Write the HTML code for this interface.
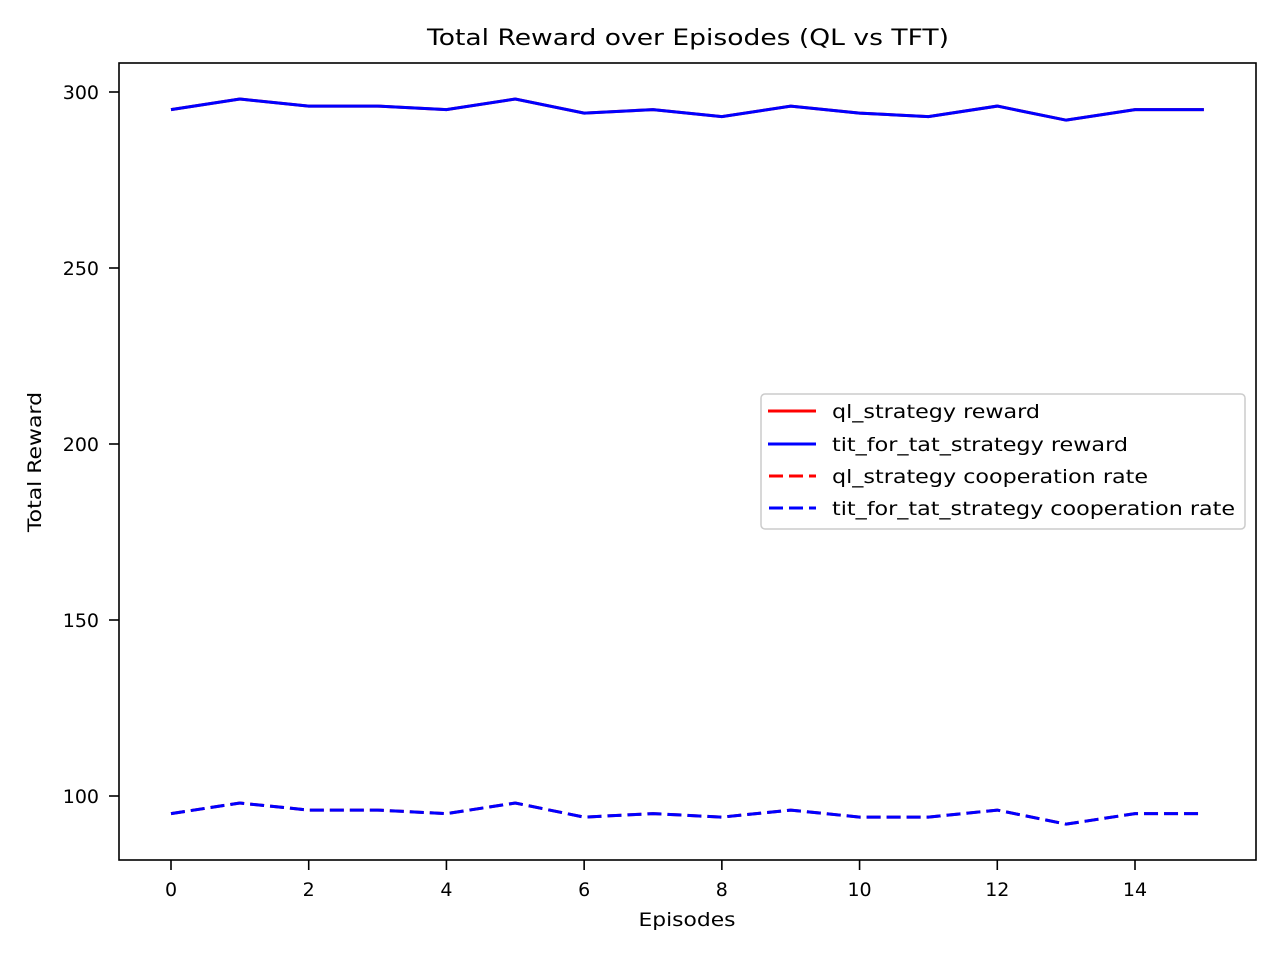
<!DOCTYPE html>
<html><head><meta charset="utf-8"><style>
body{margin:0;background:#fff}
svg{display:block;font-family:"DejaVu Sans","Liberation Sans",sans-serif}
</style></head><body>
<svg id="chart" width="1280" height="960">
<text x="688" y="45" text-anchor="middle" font-size="22" textLength="522" lengthAdjust="spacingAndGlyphs">Total Reward over Episodes (QL vs TFT)</text>
<g id="marks"></g>
<rect x="119" y="63" width="1137" height="797" fill="none" stroke="#000" stroke-width="1.6"/>
<g id="axes"></g>
<text x="687" y="926" text-anchor="middle" font-size="19" textLength="97" lengthAdjust="spacingAndGlyphs">Episodes</text>
<text transform="translate(41,462) rotate(-90)" text-anchor="middle" font-size="19" textLength="140" lengthAdjust="spacingAndGlyphs">Total Reward</text>
<g>
<rect x="761" y="394" width="484" height="135" rx="4" fill="#fff" fill-opacity="0.8" stroke="#ccc" stroke-width="1.5"/>
<g><line x1="768" y1="411" x2="816" y2="411" stroke="red" stroke-width="3"/><text x="832" y="418" font-size="19" textLength="208" lengthAdjust="spacingAndGlyphs">ql_strategy reward</text></g>
<g><line x1="768" y1="444" x2="816" y2="444" stroke="blue" stroke-width="3"/><text x="832" y="451" font-size="19" textLength="296" lengthAdjust="spacingAndGlyphs">tit_for_tat_strategy reward</text></g>
<g><line x1="769" y1="476" x2="816" y2="476" stroke="red" stroke-width="3" stroke-dasharray="14,6"/><text x="832" y="483" font-size="19" textLength="316" lengthAdjust="spacingAndGlyphs">ql_strategy cooperation rate</text></g>
<g><line x1="769" y1="508" x2="816" y2="508" stroke="blue" stroke-width="3" stroke-dasharray="14,6"/><text x="832" y="515" font-size="19" textLength="403" lengthAdjust="spacingAndGlyphs">tit_for_tat_strategy cooperation rate</text></g>
</g>
</svg>
<script>
const episodes=[0,1,2,3,4,5,6,7,8,9,10,11,12,13,14,15];
const qlReward=[295,298,296,296,295,298,294,295,293,296,294,293,296,292,295,295];
const tftReward=[295,298,296,296,295,298,294,295,293,296,294,293,296,292,295,295];
const qlCoop=[95,98,96,96,95,98,94,95,94,96,94,94,96,92,95,95];
const tftCoop=[95,98,96,96,95,98,94,95,94,96,94,94,96,92,95,95];
const xTicks=[0,2,4,6,8,10,12,14];
const yTicks=[100,150,200,250,300];
const NS="http://www.w3.org/2000/svg";
function xs(v){return 171+v*(1135-171)/14;}
function ys(v){return 796-(v-100)*(796-92)/200;}
const marks=document.getElementById('marks'),axes=document.getElementById('axes');
function line(arr,color,dash,name){
  const p=document.createElementNS(NS,'polyline');
  p.setAttribute('points',arr.map((v,i)=>xs(episodes[i])+','+ys(v)).join(' '));
  p.setAttribute('fill','none');p.setAttribute('stroke',color);p.setAttribute('stroke-width','3');
  if(dash)p.setAttribute('stroke-dasharray','14,6');
  
  
  marks.appendChild(p);
}
line(qlReward,'red',false,'ql-reward-line');
line(tftReward,'blue',false,'tft-reward-line');
line(qlCoop,'red',true,'ql-coop-line');
line(tftCoop,'blue',true,'tft-coop-line');
xTicks.forEach(t=>{
  const g=document.createElementNS(NS,'g');
  
  
  g.innerHTML=`<line x1="${xs(t)}" y1="860" x2="${xs(t)}" y2="870" stroke="#000" stroke-width="1.6"/><text x="${xs(t)}" y="896" text-anchor="middle" font-size="19">${t}</text>`;
  axes.appendChild(g);
});
yTicks.forEach(t=>{
  const g=document.createElementNS(NS,'g');
  
  
  g.innerHTML=`<line x1="109" y1="${ys(t)}" x2="119" y2="${ys(t)}" stroke="#000" stroke-width="1.6"/><text x="99" y="${ys(t)+7}" text-anchor="end" font-size="19">${t}</text>`;
  axes.appendChild(g);
});
</script>
</body></html>
